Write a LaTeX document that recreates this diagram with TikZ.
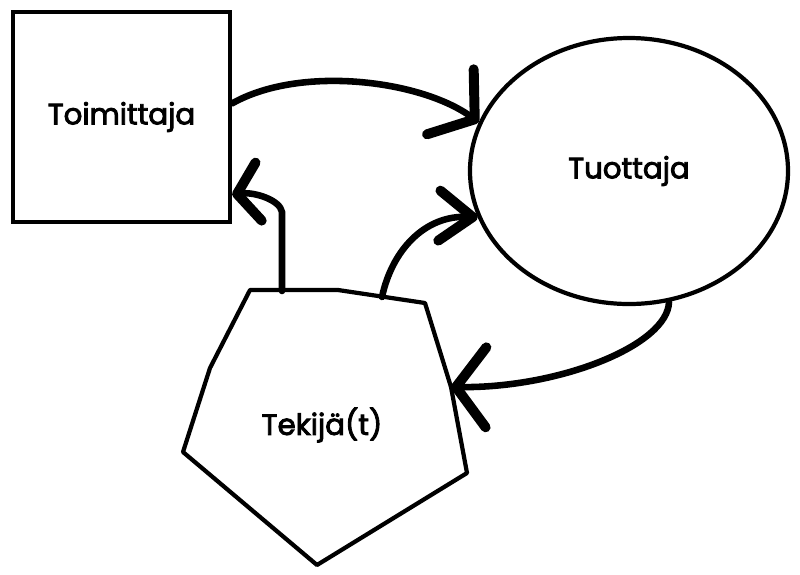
\documentclass[tikz,border=0pt]{standalone}
\usepackage{fontspec}
\setmainfont{Poppins}[FakeBold=3]
\usetikzlibrary{arrows.meta,shapes.geometric,calc}

\begin{document}
\begin{tikzpicture}[x=0.03cm,y=-0.03cm,
                shape line/.style={draw,line width=3.6pt},
                flow/.style={line width=5.6pt,line cap=round},
                bigtip/.style={-{Straight Barb[length=0.9cm,width=2.4cm,line width=8.5pt,round]}},
                midtip/.style={-{Straight Barb[length=1.0cm,width=1.5cm,line width=8.5pt,round]}},
                smalltip/.style={-{Straight Barb[length=0.65cm,width=1.75cm,line width=8.5pt,round]}},
                font=\fontsize{25}{29}\selectfont]

\useasboundingbox (0,0) rectangle (800,574);

\node[shape line,rectangle,minimum width=6.51cm,minimum height=6.3cm] (sup) at (121.5,117) {Toimittaja};
\node[shape line,ellipse,minimum width=9.54cm,minimum height=7.98cm,inner sep=0pt] (prod) at (629,171) {Tuottaja};

\coordinate (p1)  at (250,290);
\coordinate (p2)  at (338,290);
\coordinate (p3)  at (425,303);
\coordinate (p3b) at (451,387);
\coordinate (p4)  at (467,473);
\coordinate (p5)  at (317,565);
\coordinate (p6)  at (183,452);
\coordinate (p7)  at (210,368);
\draw[line width=3.6pt,line join=round] (p1) -- (p2) -- (p3) -- (p3b) -- (p4) -- (p5) -- (p6) -- (p7) -- cycle;
\node (maker) at (322,425) {Tekijä(t)};

\coordinate (t1) at (282,291);
\coordinate (t2) at (382,297);

\draw[flow,bigtip] (sup.7) .. controls (300,65) and (420,80) .. (prod.162);
\draw[flow,smalltip] (t1) -- (282,212) .. controls (280,200) and (255,192) .. (sup.-35);
\draw[flow,midtip] (t2) .. controls (392,250) and (425,215) .. (prod.197);
\draw[flow,bigtip] (prod.-73) .. controls (668,345) and (560,388) .. (p3b);

\end{tikzpicture}
\end{document}
